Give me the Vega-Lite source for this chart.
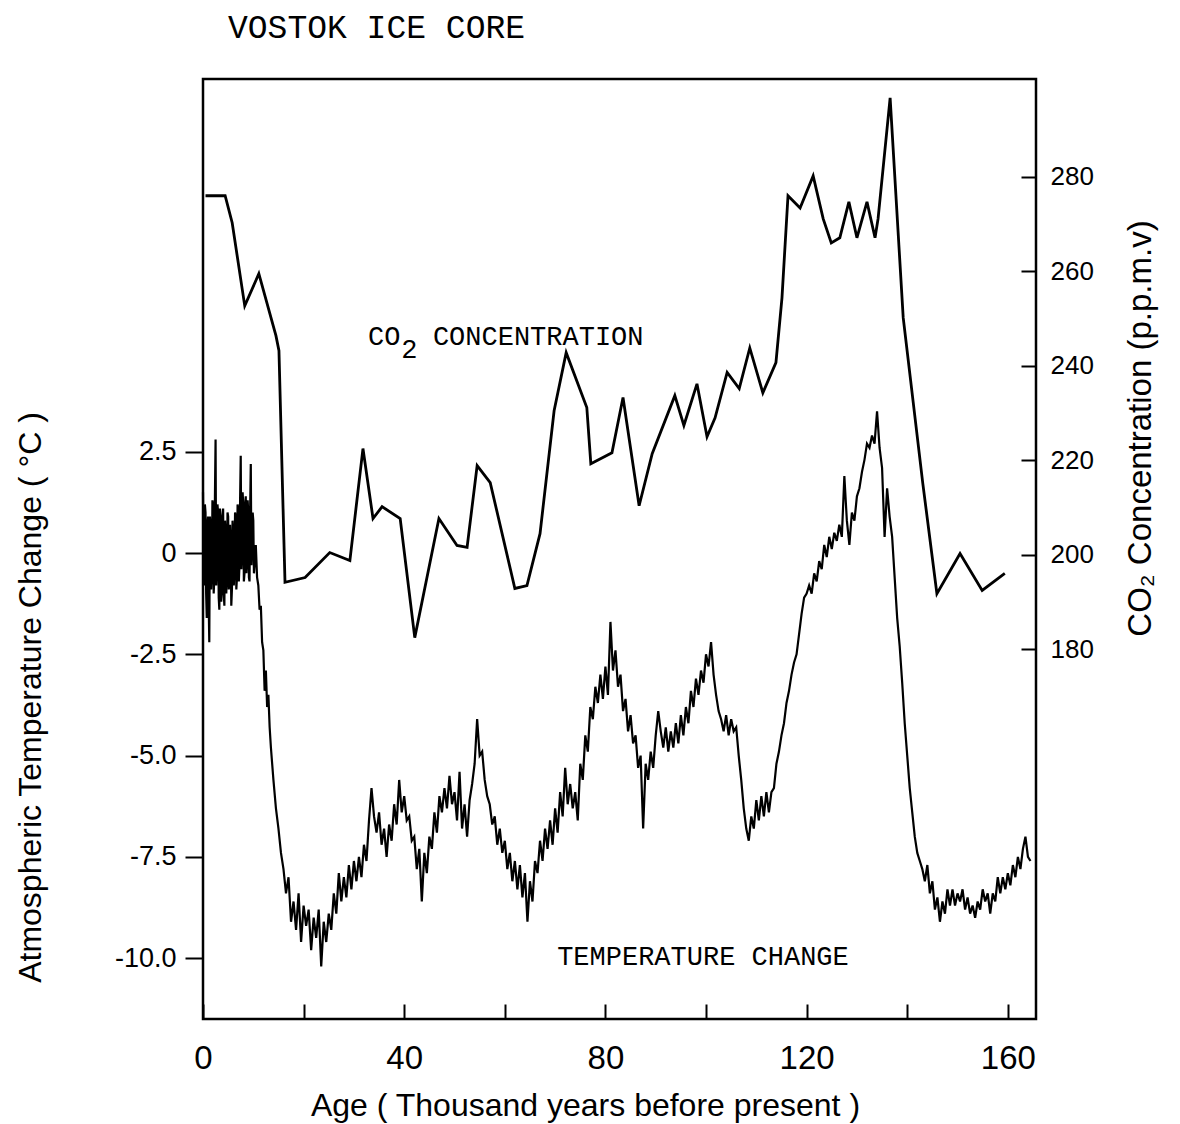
{
"$schema": "https://vega.github.io/schema/vega-lite/v6.json",
"autosize": {"type": "none"},
"padding": {"left": 203, "top": 79, "right": 144, "bottom": 105},
"width": 833, "height": 940,
"background": "white",
"title": {"text": "VOSTOK ICE CORE", "anchor": "start", "frame": "group", "dx": 25, "offset": 8, "baseline": "alphabetic", "font": "Liberation Mono", "fontSize": 33, "fontWeight": "normal", "color": "black"},
"config": {
  "view": {"stroke": "black", "strokeWidth": 2.5},
  "axis": {"domain": false, "grid": false, "labelFont": "Liberation Sans", "titleFont": "Liberation Sans", "titleFontWeight": "normal", "labelColor": "black", "titleColor": "black", "tickColor": "black", "tickWidth": 2}
},
"datasets": {
"temperature": [
{"age":0,"temp":1.5},{"age":0.125,"temp":-0.4},{"age":0.25,"temp":-0.8},{"age":0.375,"temp":1.2},{"age":0.5,"temp":1.0},{"age":0.625,"temp":-1.0},{"age":0.75,"temp":-1.6},{"age":0.875,"temp":0.7},{"age":1,"temp":0.9},{"age":1.125,"temp":-1.2},{"age":1.25,"temp":-2.2},{"age":1.375,"temp":0.9},{"age":1.5,"temp":0.6},{"age":1.625,"temp":-0.9},{"age":1.75,"temp":-0.5},{"age":1.875,"temp":1.3},{"age":2,"temp":1.2},{"age":2.125,"temp":-1.0},{"age":2.25,"temp":-0.6},{"age":2.375,"temp":1.4},{"age":2.5,"temp":2.8},{"age":2.625,"temp":-0.8},{"age":2.75,"temp":-0.4},{"age":2.875,"temp":1.2},{"age":3,"temp":1.0},{"age":3.125,"temp":-1.1},{"age":3.25,"temp":-1.4},{"age":3.375,"temp":1.1},{"age":3.5,"temp":0.8},{"age":3.625,"temp":-1.2},{"age":3.75,"temp":-0.9},{"age":3.875,"temp":0.9},{"age":4,"temp":1.1},{"age":4.125,"temp":-1.0},{"age":4.25,"temp":-1.3},{"age":4.375,"temp":0.8},{"age":4.5,"temp":0.5},{"age":4.625,"temp":-1.0},{"age":4.75,"temp":-0.6},{"age":4.875,"temp":1.0},{"age":5,"temp":0.9},{"age":5.125,"temp":-0.9},{"age":5.25,"temp":-0.7},{"age":5.375,"temp":0.7},{"age":5.5,"temp":0.3},{"age":5.625,"temp":-1.3},{"age":5.75,"temp":-0.9},{"age":5.875,"temp":0.8},{"age":6,"temp":0.5},{"age":6.125,"temp":-0.8},{"age":6.25,"temp":-0.4},{"age":6.375,"temp":1.0},{"age":6.5,"temp":0.9},{"age":6.625,"temp":-0.9},{"age":6.75,"temp":-0.6},{"age":6.875,"temp":1.2},{"age":7,"temp":1.1},{"age":7.125,"temp":-0.7},{"age":7.25,"temp":-0.3},{"age":7.375,"temp":1.3},{"age":7.5,"temp":2.4},{"age":7.625,"temp":-0.4},{"age":7.75,"temp":0.0},{"age":7.875,"temp":1.5},{"age":8,"temp":1.2},{"age":8.125,"temp":-0.7},{"age":8.25,"temp":-0.5},{"age":8.375,"temp":1.2},{"age":8.5,"temp":1.4},{"age":8.625,"temp":-0.5},{"age":8.75,"temp":-0.2},{"age":8.875,"temp":1.3},{"age":9,"temp":1.0},{"age":9.125,"temp":-0.6},{"age":9.25,"temp":-0.7},{"age":9.375,"temp":1.1},{"age":9.5,"temp":2.2},{"age":9.625,"temp":-0.3},{"age":9.75,"temp":0.2},{"age":9.875,"temp":1.0},{"age":10,"temp":0.8},{"age":10.125,"temp":-0.5},{"age":10.25,"temp":-0.3},{"age":10.5,"temp":0.2},{"age":10.75,"temp":-0.6},{"age":11,"temp":-0.8},{"age":11.25,"temp":-1.4},{"age":11.5,"temp":-1.3},{"age":11.75,"temp":-2.2},{"age":12,"temp":-2.4},{"age":12.25,"temp":-3.4},{"age":12.5,"temp":-2.9},{"age":12.75,"temp":-3.8},{"age":13,"temp":-3.5},{"age":13.25,"temp":-4.3},{"age":13.5,"temp":-4.8},{"age":13.75,"temp":-5.2},{"age":14,"temp":-5.6},{"age":14.5,"temp":-6.3},{"age":15,"temp":-6.8},{"age":15.5,"temp":-7.4},{"age":16,"temp":-7.8},{"age":16.5,"temp":-8.4},{"age":17,"temp":-8.0},{"age":17.5,"temp":-9.1},{"age":18,"temp":-8.6},{"age":18.5,"temp":-9.3},{"age":19,"temp":-8.4},{"age":19.5,"temp":-9.6},{"age":20,"temp":-8.7},{"age":20.5,"temp":-9.2},{"age":21,"temp":-8.8},{"age":21.5,"temp":-9.8},{"age":22,"temp":-9.0},{"age":22.5,"temp":-9.5},{"age":23,"temp":-8.8},{"age":23.5,"temp":-10.2},{"age":24,"temp":-9.1},{"age":24.5,"temp":-9.6},{"age":25,"temp":-8.9},{"age":25.5,"temp":-9.3},{"age":26,"temp":-8.4},{"age":26.5,"temp":-8.9},{"age":27,"temp":-7.9},{"age":27.5,"temp":-8.6},{"age":28,"temp":-8.0},{"age":28.5,"temp":-8.5},{"age":29,"temp":-7.7},{"age":29.5,"temp":-8.3},{"age":30,"temp":-7.6},{"age":30.5,"temp":-8.1},{"age":31,"temp":-7.5},{"age":31.5,"temp":-8.0},{"age":32,"temp":-7.2},{"age":32.5,"temp":-7.6},{"age":33,"temp":-6.6},{"age":33.5,"temp":-5.8},{"age":34,"temp":-6.5},{"age":34.5,"temp":-6.9},{"age":35,"temp":-6.4},{"age":35.5,"temp":-7.2},{"age":36,"temp":-6.8},{"age":36.5,"temp":-7.5},{"age":37,"temp":-6.7},{"age":37.5,"temp":-7.1},{"age":38,"temp":-6.2},{"age":38.5,"temp":-6.7},{"age":39,"temp":-5.6},{"age":39.5,"temp":-6.4},{"age":40,"temp":-6.0},{"age":40.5,"temp":-6.6},{"age":41,"temp":-6.5},{"age":41.5,"temp":-7.1},{"age":42,"temp":-7.0},{"age":42.5,"temp":-7.8},{"age":43,"temp":-7.3},{"age":43.5,"temp":-8.6},{"age":44,"temp":-7.4},{"age":44.5,"temp":-7.9},{"age":45,"temp":-7.0},{"age":45.5,"temp":-7.3},{"age":46,"temp":-6.4},{"age":46.5,"temp":-6.9},{"age":47,"temp":-6.0},{"age":47.5,"temp":-6.4},{"age":48,"temp":-5.8},{"age":48.5,"temp":-6.3},{"age":49,"temp":-5.5},{"age":49.5,"temp":-6.2},{"age":50,"temp":-5.9},{"age":50.5,"temp":-6.6},{"age":51,"temp":-5.4},{"age":51.5,"temp":-6.8},{"age":52,"temp":-6.2},{"age":52.5,"temp":-7.0},{"age":53,"temp":-6.1},{"age":53.5,"temp":-5.7},{"age":54,"temp":-5.2},{"age":54.5,"temp":-4.1},{"age":55,"temp":-5.0},{"age":55.5,"temp":-4.9},{"age":56,"temp":-5.6},{"age":56.5,"temp":-6.0},{"age":57,"temp":-6.2},{"age":57.5,"temp":-6.7},{"age":58,"temp":-6.5},{"age":58.5,"temp":-7.2},{"age":59,"temp":-6.8},{"age":59.5,"temp":-7.4},{"age":60,"temp":-7.1},{"age":60.5,"temp":-7.8},{"age":61,"temp":-7.4},{"age":61.5,"temp":-8.1},{"age":62,"temp":-7.6},{"age":62.5,"temp":-8.3},{"age":63,"temp":-7.7},{"age":63.5,"temp":-8.5},{"age":64,"temp":-7.9},{"age":64.5,"temp":-9.1},{"age":65,"temp":-8.1},{"age":65.5,"temp":-8.6},{"age":66,"temp":-7.6},{"age":66.5,"temp":-7.9},{"age":67,"temp":-7.1},{"age":67.5,"temp":-7.6},{"age":68,"temp":-6.8},{"age":68.5,"temp":-7.3},{"age":69,"temp":-6.6},{"age":69.5,"temp":-7.2},{"age":70,"temp":-6.3},{"age":70.5,"temp":-6.9},{"age":71,"temp":-5.9},{"age":71.5,"temp":-6.5},{"age":72,"temp":-5.3},{"age":72.5,"temp":-6.2},{"age":73,"temp":-5.7},{"age":73.5,"temp":-6.3},{"age":74,"temp":-5.9},{"age":74.5,"temp":-6.6},{"age":75,"temp":-5.2},{"age":75.5,"temp":-5.6},{"age":76,"temp":-4.5},{"age":76.5,"temp":-4.9},{"age":77,"temp":-3.8},{"age":77.5,"temp":-4.1},{"age":78,"temp":-3.3},{"age":78.5,"temp":-3.7},{"age":79,"temp":-3.0},{"age":79.5,"temp":-3.6},{"age":80,"temp":-2.8},{"age":80.5,"temp":-3.5},{"age":81,"temp":-1.7},{"age":81.5,"temp":-2.9},{"age":82,"temp":-2.4},{"age":82.5,"temp":-3.3},{"age":83,"temp":-3.0},{"age":83.5,"temp":-3.9},{"age":84,"temp":-3.6},{"age":84.5,"temp":-4.4},{"age":85,"temp":-4.0},{"age":85.5,"temp":-4.7},{"age":86,"temp":-4.5},{"age":86.5,"temp":-5.3},{"age":87,"temp":-5.0},{"age":87.5,"temp":-6.8},{"age":88,"temp":-5.2},{"age":88.5,"temp":-5.6},{"age":89,"temp":-4.9},{"age":89.5,"temp":-5.3},{"age":90,"temp":-4.5},{"age":90.5,"temp":-3.9},{"age":91,"temp":-4.4},{"age":91.5,"temp":-4.8},{"age":92,"temp":-4.3},{"age":92.5,"temp":-4.9},{"age":93,"temp":-4.4},{"age":93.5,"temp":-4.8},{"age":94,"temp":-4.2},{"age":94.5,"temp":-4.7},{"age":95,"temp":-4.0},{"age":95.5,"temp":-4.5},{"age":96,"temp":-3.8},{"age":96.5,"temp":-4.2},{"age":97,"temp":-3.4},{"age":97.5,"temp":-3.8},{"age":98,"temp":-3.1},{"age":98.5,"temp":-3.5},{"age":99,"temp":-2.9},{"age":99.5,"temp":-3.2},{"age":100,"temp":-2.5},{"age":100.5,"temp":-2.8},{"age":101,"temp":-2.2},{"age":101.5,"temp":-3.0},{"age":102,"temp":-3.5},{"age":102.5,"temp":-3.9},{"age":103,"temp":-4.1},{"age":103.5,"temp":-4.4},{"age":104,"temp":-4.0},{"age":104.5,"temp":-4.5},{"age":105,"temp":-4.1},{"age":105.5,"temp":-4.4},{"age":106,"temp":-4.3},{"age":106.5,"temp":-5.0},{"age":107,"temp":-5.6},{"age":107.5,"temp":-6.3},{"age":108,"temp":-6.8},{"age":108.5,"temp":-7.1},{"age":109,"temp":-6.5},{"age":109.5,"temp":-6.8},{"age":110,"temp":-6.1},{"age":110.5,"temp":-6.6},{"age":111,"temp":-6.0},{"age":111.5,"temp":-6.5},{"age":112,"temp":-5.9},{"age":112.5,"temp":-6.4},{"age":113,"temp":-5.9},{"age":113.5,"temp":-5.8},{"age":114,"temp":-5.2},{"age":114.5,"temp":-4.9},{"age":115,"temp":-4.5},{"age":115.5,"temp":-4.2},{"age":116,"temp":-3.7},{"age":116.5,"temp":-3.4},{"age":117,"temp":-3.0},{"age":117.5,"temp":-2.7},{"age":118,"temp":-2.5},{"age":118.5,"temp":-2.0},{"age":119,"temp":-1.5},{"age":119.5,"temp":-1.1},{"age":120,"temp":-1.0},{"age":120.5,"temp":-0.8},{"age":121,"temp":-1.0},{"age":121.5,"temp":-0.5},{"age":122,"temp":-0.7},{"age":122.5,"temp":-0.2},{"age":123,"temp":-0.4},{"age":123.5,"temp":0.2},{"age":124,"temp":-0.1},{"age":124.5,"temp":0.4},{"age":125,"temp":0.1},{"age":125.5,"temp":0.5},{"age":126,"temp":0.3},{"age":126.5,"temp":0.7},{"age":127,"temp":0.4},{"age":127.5,"temp":1.9},{"age":128,"temp":0.8},{"age":128.5,"temp":0.2},{"age":129,"temp":1.0},{"age":129.5,"temp":0.8},{"age":130,"temp":1.4},{"age":130.5,"temp":1.6},{"age":131,"temp":2.0},{"age":131.5,"temp":2.3},{"age":132,"temp":2.7},{"age":132.5,"temp":2.6},{"age":133,"temp":2.9},{"age":133.5,"temp":2.7},{"age":134,"temp":3.5},{"age":134.5,"temp":2.6},{"age":135,"temp":2.1},{"age":135.5,"temp":0.4},{"age":136,"temp":1.6},{"age":136.5,"temp":0.9},{"age":137,"temp":0.4},{"age":137.5,"temp":-0.6},{"age":138,"temp":-1.6},{"age":138.5,"temp":-2.3},{"age":139,"temp":-3.2},{"age":139.5,"temp":-4.2},{"age":140,"temp":-5.0},{"age":140.5,"temp":-5.8},{"age":141,"temp":-6.4},{"age":141.5,"temp":-7.0},{"age":142,"temp":-7.4},{"age":142.5,"temp":-7.6},{"age":143,"temp":-7.8},{"age":143.5,"temp":-8.1},{"age":144,"temp":-7.7},{"age":144.5,"temp":-8.4},{"age":145,"temp":-8.1},{"age":145.5,"temp":-8.8},{"age":146,"temp":-8.5},{"age":146.5,"temp":-9.1},{"age":147,"temp":-8.6},{"age":147.5,"temp":-8.9},{"age":148,"temp":-8.3},{"age":148.5,"temp":-8.7},{"age":149,"temp":-8.3},{"age":149.5,"temp":-8.7},{"age":150,"temp":-8.4},{"age":150.5,"temp":-8.6},{"age":151,"temp":-8.3},{"age":151.5,"temp":-8.8},{"age":152,"temp":-8.5},{"age":152.5,"temp":-8.9},{"age":153,"temp":-8.7},{"age":153.5,"temp":-9.0},{"age":154,"temp":-8.6},{"age":154.5,"temp":-8.8},{"age":155,"temp":-8.3},{"age":155.5,"temp":-8.6},{"age":156,"temp":-8.4},{"age":156.5,"temp":-8.9},{"age":157,"temp":-8.4},{"age":157.5,"temp":-8.6},{"age":158,"temp":-8.0},{"age":158.5,"temp":-8.4},{"age":159,"temp":-8.0},{"age":159.5,"temp":-8.3},{"age":160,"temp":-7.9},{"age":160.5,"temp":-8.2},{"age":161,"temp":-7.7},{"age":161.5,"temp":-8.0},{"age":162,"temp":-7.5},{"age":162.5,"temp":-7.8},{"age":163,"temp":-7.3},{"age":163.5,"temp":-7.0},{"age":164,"temp":-7.5},{"age":164.5,"temp":-7.6}
],
"co2": [
{"age":0.5,"co2":276.0},{"age":4.4,"co2":276.0},{"age":5.8,"co2":270.3},{"age":8.3,"co2":252.7},{"age":11.1,"co2":259.5},{"age":14.5,"co2":246.4},{"age":15.1,"co2":243.2},{"age":16.3,"co2":194.2},{"age":20.3,"co2":195.2},{"age":25.2,"co2":200.5},{"age":29.2,"co2":198.8},{"age":31.8,"co2":222.5},{"age":33.8,"co2":207.7},{"age":35.6,"co2":210.2},{"age":39.2,"co2":207.7},{"age":42.1,"co2":182.5},{"age":46.9,"co2":207.7},{"age":50.5,"co2":202.0},{"age":52.5,"co2":201.6},{"age":54.5,"co2":218.9},{"age":57.1,"co2":215.3},{"age":62.0,"co2":192.9},{"age":64.4,"co2":193.5},{"age":67.0,"co2":204.5},{"age":69.8,"co2":230.5},{"age":72.2,"co2":242.8},{"age":76.3,"co2":231.2},{"age":77.1,"co2":219.3},{"age":81.3,"co2":221.6},{"age":83.5,"co2":233.3},{"age":86.7,"co2":210.4},{"age":89.3,"co2":221.4},{"age":93.8,"co2":233.7},{"age":95.6,"co2":227.4},{"age":98.2,"co2":236.2},{"age":100.2,"co2":225.0},{"age":101.8,"co2":229.0},{"age":104.2,"co2":238.6},{"age":106.6,"co2":235.2},{"age":108.7,"co2":243.8},{"age":111.3,"co2":234.3},{"age":113.9,"co2":240.7},{"age":115.1,"co2":254.4},{"age":116.3,"co2":276.0},{"age":118.7,"co2":273.4},{"age":121.3,"co2":280.2},{"age":123.3,"co2":271.1},{"age":124.9,"co2":266.0},{"age":126.6,"co2":267.1},{"age":128.4,"co2":274.7},{"age":130.0,"co2":267.1},{"age":132.0,"co2":274.7},{"age":133.6,"co2":267.1},{"age":134.2,"co2":271.1},{"age":136.6,"co2":296.7},{"age":139.2,"co2":250.2},{"age":143.1,"co2":215.1},{"age":145.9,"co2":191.8},{"age":150.5,"co2":200.3},{"age":154.9,"co2":192.5},{"age":159.4,"co2":196.1}
]
},
"layer": [
  {"layer": [
    {"data": {"name": "temperature"},
     "mark": {"type": "line", "color": "black", "strokeWidth": 2.2},
     "encoding": {
       "x": {"field": "age", "type": "quantitative", "title": "Age ( Thousand years before present )",
             "scale": {"domain": [0, 165.6], "nice": false, "zero": false},
             "axis": {"values": [0,20,40,60,80,100,120,140,160], "labelExpr": "datum.value % 40 == 0 ? datum.label : ''",
                      "labelFlush": false, "tickSize": -15, "labelPadding": 38, "labelFont": "Liberation Sans Narrow, Liberation Sans", "labelFontSize": 33,
                      "titleFontSize": 32, "titleX": 382, "titleY": 86, "titleAlign": "center", "titleBaseline": "middle"}},
       "y": {"field": "temp", "type": "quantitative", "title": "Atmospheric Temperature Change ( °C )",
             "scale": {"domain": [-11.5, 11.7], "nice": false, "zero": false},
             "axis": {"values": [-10,-7.5,-5,-2.5,0,2.5], "labelExpr": "datum.value == 0 ? '0' : replace(format(datum.value, '.1f'), '−', '-')",
                      "tickSize": 18, "labelPadding": 9, "labelFontSize": 27,
                      "titleFontSize": 32, "titleX": -173, "titleY": 618, "titleAngle": 270, "titleAlign": "center", "titleBaseline": "middle"}}
     }},
    {"data": {"values": [{}]},
     "mark": {"type": "text", "text": "TEMPERATURE CHANGE", "font": "Liberation Mono", "fontSize": 27, "align": "left", "baseline": "middle", "color": "black"},
     "encoding": {"x": {"datum": 70.4, "type": "quantitative", "title": "Age ( Thousand years before present )"},
                  "y": {"datum": -9.98, "type": "quantitative", "title": "Atmospheric Temperature Change ( °C )"}}},
    {"data": {"values": [{}]},
     "mark": {"type": "text", "text": "CO", "font": "Liberation Mono", "fontSize": 27, "align": "left", "baseline": "middle", "color": "black"},
     "encoding": {"x": {"datum": 32.8, "type": "quantitative", "title": "Age ( Thousand years before present )"},
                  "y": {"datum": 5.33, "type": "quantitative", "title": "Atmospheric Temperature Change ( °C )"}}},
    {"data": {"values": [{}]},
     "mark": {"type": "text", "text": "2", "font": "Liberation Mono", "fontSize": 27, "align": "left", "baseline": "middle", "color": "black"},
     "encoding": {"x": {"datum": 39.4, "type": "quantitative", "title": "Age ( Thousand years before present )"},
                  "y": {"datum": 5.0, "type": "quantitative", "title": "Atmospheric Temperature Change ( °C )"}}},
    {"data": {"values": [{}]},
     "mark": {"type": "text", "text": "CONCENTRATION", "font": "Liberation Mono", "fontSize": 27, "align": "left", "baseline": "middle", "color": "black"},
     "encoding": {"x": {"datum": 45.7, "type": "quantitative", "title": "Age ( Thousand years before present )"},
                  "y": {"datum": 5.33, "type": "quantitative", "title": "Atmospheric Temperature Change ( °C )"}}}
  ]},
  {"data": {"name": "co2"},
   "mark": {"type": "line", "color": "black", "strokeWidth": 2.8},
   "encoding": {
     "x": {"field": "age", "type": "quantitative", "title": "Age ( Thousand years before present )"},
     "y": {"field": "co2", "type": "quantitative", "title": "CO₂ Concentration (p.p.m.v)",
           "scale": {"domain": [101.8, 300.7], "nice": false, "zero": false},
           "axis": {"orient": "right", "values": [180,200,220,240,260,280], "tickSize": -15, "labelPadding": 29, "labelFontSize": 26,
                    "titleFontSize": 33, "titleX": 104, "titleY": 349, "titleAngle": 270, "titleAlign": "center", "titleBaseline": "middle"}}
   }}
],
"resolve": {"scale": {"y": "independent"}}
}
